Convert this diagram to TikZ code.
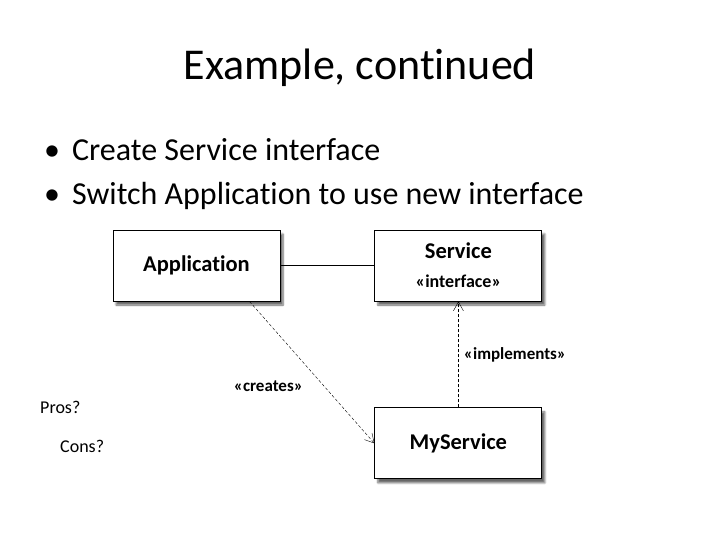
\documentclass[tikz,border=0pt]{standalone}
\usepackage{fontspec}
\setmainfont{Carlito}[Ligatures=NoCommon]
\usetikzlibrary{arrows.meta, positioning, shadows.blur}

\begin{document}
\begin{tikzpicture}[
    x=1pt, y=1pt,
    classbox/.style={rectangle, minimum width=167pt, minimum height=71pt, text centered, align=center, draw=black, line width=0.9pt, fill=white, font=\bfseries\fontsize{22.5}{26}\selectfont, blur shadow={shadow xshift=3pt, shadow yshift=-4pt, shadow opacity=60, shadow blur steps=6}},
    bullet/.style={anchor=west, inner sep=0pt, font=\fontsize{32}{38}\selectfont},
    note/.style={anchor=west, inner sep=0pt, font=\fontsize{18}{21}\selectfont},
    stereo/.style={font=\bfseries\fontsize{17}{20}\selectfont},
    assoc/.style={thin},
    depend/.style={thin, densely dashed, ->, >={Straight Barb[length=9pt, width=10pt]}}
]
    \useasboundingbox (0,0) rectangle (720,-540);

    \node (title) at (360,-68) {\fontsize{44}{52}\selectfont Example, continued};
    \node (b1) [bullet] at (44,-150) {\textbullet\hspace{12pt}Create Service interface};
    \node (b2) [bullet] at (44,-196) {\textbullet\hspace{12pt}Switch Application to use new interface};

    \node (app) [classbox] at (196.5,-265.5) {Application};
    \node (svc) [classbox, right=94pt of app] {Service\\[3pt]{\fontsize{18}{21}\selectfont «interface»}};
    \node (mysvc) [classbox, below=106pt of svc] {MyService};

    \node (pros) [note] at (40,-407) {Pros?};
    \node (cons) [note] at (60,-446) {Cons?};

    \draw [assoc] (app) -- (svc);
    \draw [depend] ([xshift=53pt]app.south) -- node[pos=0.6, left=18pt, stereo] {«creates»} (mysvc.west);
    \draw [depend] (mysvc) -- node[right=2pt, stereo] {«implements»} (svc);
\end{tikzpicture}
\end{document}
